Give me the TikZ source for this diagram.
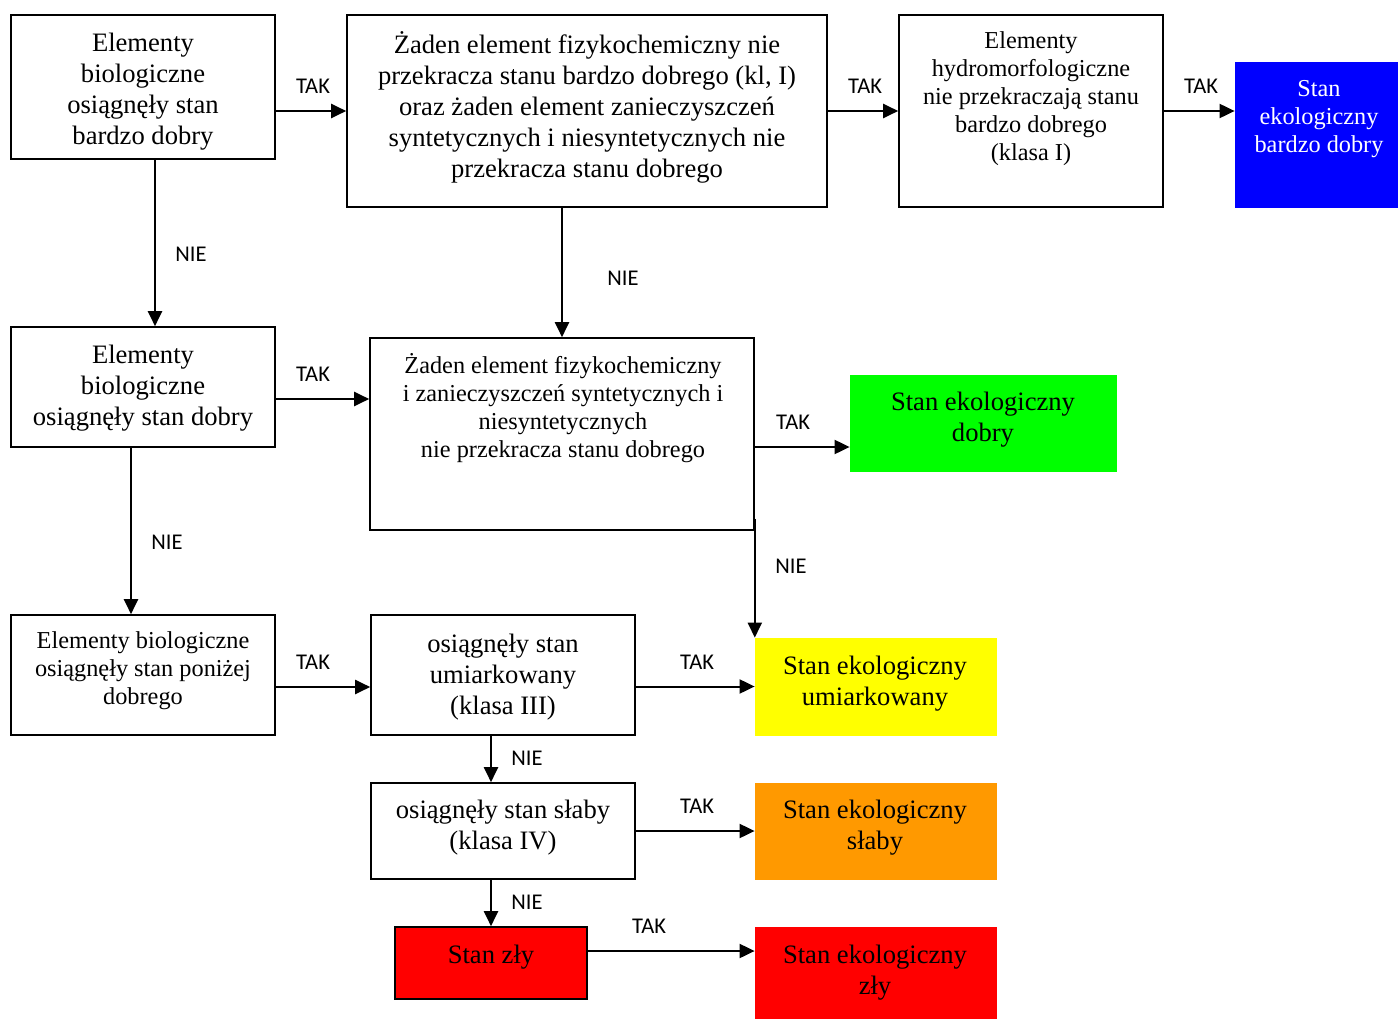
\documentclass[tikz,border=0pt]{standalone}
\usepackage{fontspec}
\setmainfont{Liberation Serif}
\newfontfamily\lblfont{Carlito}
\usetikzlibrary{arrows.meta}
\definecolor{cblue}{RGB}{0,0,255}
\definecolor{cgreen}{RGB}{0,255,0}
\definecolor{cyellow}{RGB}{255,255,0}
\definecolor{corange}{RGB}{255,153,0}
\definecolor{cred}{RGB}{255,0,0}
\tikzset{
  box/.style={draw=black, line width=1.6pt, inner sep=0pt, rectangle},
  cbox/.style={draw=#1, fill=#1, line width=0.8pt, inner sep=0pt, rectangle},
  big/.style={align=center, inner sep=0pt, font=\fontsize{26.6}{31}\selectfont},
  small/.style={align=center, inner sep=0pt, font=\fontsize{24.3}{28}\selectfont},
  lbl/.style={inner sep=0pt, font=\lblfont\fontsize{22.5}{24}\selectfont},
  arr/.style={line width=2pt, -{Triangle[length=15pt,width=14pt]}},
}
\newcommand{\boxat}[6]{\node[#1, minimum width={#4-#2}, minimum height={#5-#3}] (#6) at ({(#2+#4)/2},{(#3+#5)/2}) {};}
\begin{document}
\begin{tikzpicture}[x=1pt,y=-1pt]
\useasboundingbox (0,0) rectangle (1398,1019);
% boxes
\boxat{box}{11}{15}{275}{159}{b1}
\boxat{box}{347}{15}{827}{207}{b2}
\boxat{box}{899}{15}{1163}{207}{b3}
\boxat{cbox=cblue}{1235}{62}{1398}{207}{b4}
\boxat{box}{11}{327}{275}{447}{b5}
\boxat{box}{370}{338}{754}{530}{b6}
\boxat{cbox=cgreen}{850}{375}{1116}{471}{g}
\boxat{box}{11}{615}{275}{735}{b7}
\boxat{box}{371}{615}{635}{735}{b8}
\boxat{cbox=cyellow}{755}{638}{996}{735}{y}
\boxat{box}{371}{783}{635}{879}{b9}
\boxat{cbox=corange}{755}{783}{996}{879}{o}
\node[box, fill=cred, minimum width=192, minimum height=72] (b10) at (491,963) {};
\boxat{cbox=cred}{755}{927}{996}{1019}{r}
% texts
\node[big] (b1t) at (143,92) {Elementy\\biologiczne\\osiągnęły stan\\bardzo dobry};
\node[big] (b2t) at (587,107) {Żaden element fizykochemiczny nie\\przekracza stanu bardzo dobrego (kl, I)\\oraz żaden element zanieczyszczeń\\syntetycznych i niesyntetycznych nie\\przekracza stanu dobrego};
\node[small] (b3t) at (1031,99) {Elementy\\hydromorfologiczne\\nie przekraczają stanu\\bardzo dobrego\\(klasa I)};
\node[small, text=white] (b4t) at (1319,119) {Stan\\ekologiczny\\bardzo dobry};
\node[big] (b5t) at (143,388) {Elementy\\biologiczne\\osiągnęły stan dobry};
\node[small] (b6t) at (563,408) {Żaden element fizykochemiczny\\ i zanieczyszczeń syntetycznych i\\niesyntetycznych\\nie przekracza stanu dobrego};
\node[big] (gt) at (983,420) {Stan ekologiczny\\dobry};
\node[small] (b7t) at (143,671) {Elementy biologiczne\\osiągnęły stan poniżej\\dobrego};
\node[big] (b8t) at (503,677) {osiągnęły stan\\umiarkowany\\(klasa III)};
\node[big] (yt) at (875,684) {Stan ekologiczny\\umiarkowany};
\node[big] (b9t) at (503,828) {osiągnęły stan słaby\\(klasa IV)};
\node[big] (ot) at (875,828) {Stan ekologiczny\\słaby};
\node[big] (b10t) at (491,957) {Stan zły};
\node[big] (rt) at (875,973) {Stan ekologiczny\\zły};
% connectors
\draw[arr] (b2.west -| b1.east) -- (b2.west) node[lbl] at (313,86) {TAK};
\draw[arr] (b2.east) -- (b3.west) node[lbl] at (865,86) {TAK};
\draw[arr] (b3.east) -- (b3.east -| b4.west) node[lbl] at (1201,86) {TAK};
\draw[arr] ([xshift=12pt]b1.south) -- ([xshift=12pt]b1.south |- b5.north) node[lbl] at (191,254) {NIE};
\draw[arr] (b6.north |- b2.south) -- (b6.north) node[lbl] at (623,278) {NIE};
\draw[arr] ([yshift=-12pt]b5.east) -- ([yshift=-12pt]b5.east -| b6.west) node[lbl] at (313,374) {TAK};
\draw[arr] ([yshift=-13pt]b6.east) -- ([yshift=-13pt]b6.east -| g.west) node[lbl] at (793,422) {TAK};
\draw[arr] ([yshift=12pt]b6.south east) -- (b6.south east |- y.north) node[lbl] at (791,566) {NIE};
\draw[arr] ([xshift=-12pt]b5.south) -- ([xshift=-12pt]b5.south |- b7.north) node[lbl] at (167,542) {NIE};
\draw[arr] ([yshift=-12pt]b7.east) -- ([yshift=-12pt]b8.west) node[lbl] at (313,662) {TAK};
\draw[arr] (y.west -| b8.east) -- (y.west) node[lbl] at (697,662) {TAK};
\draw[arr] (b10.north |- b8.south) -- (b10.north |- b9.north) node[lbl] at (527,758) {NIE};
\draw[arr] (b9.east) -- (o.west) node[lbl] at (697,806) {TAK};
\draw[arr] (b10.north |- b9.south) -- (b10.north) node[lbl] at (527,902) {NIE};
\draw[arr] ([yshift=12pt]b10.east) -- ([yshift=12pt]b10.east -| r.west) node[lbl] at (649,926) {TAK};
\end{tikzpicture}
\end{document}
